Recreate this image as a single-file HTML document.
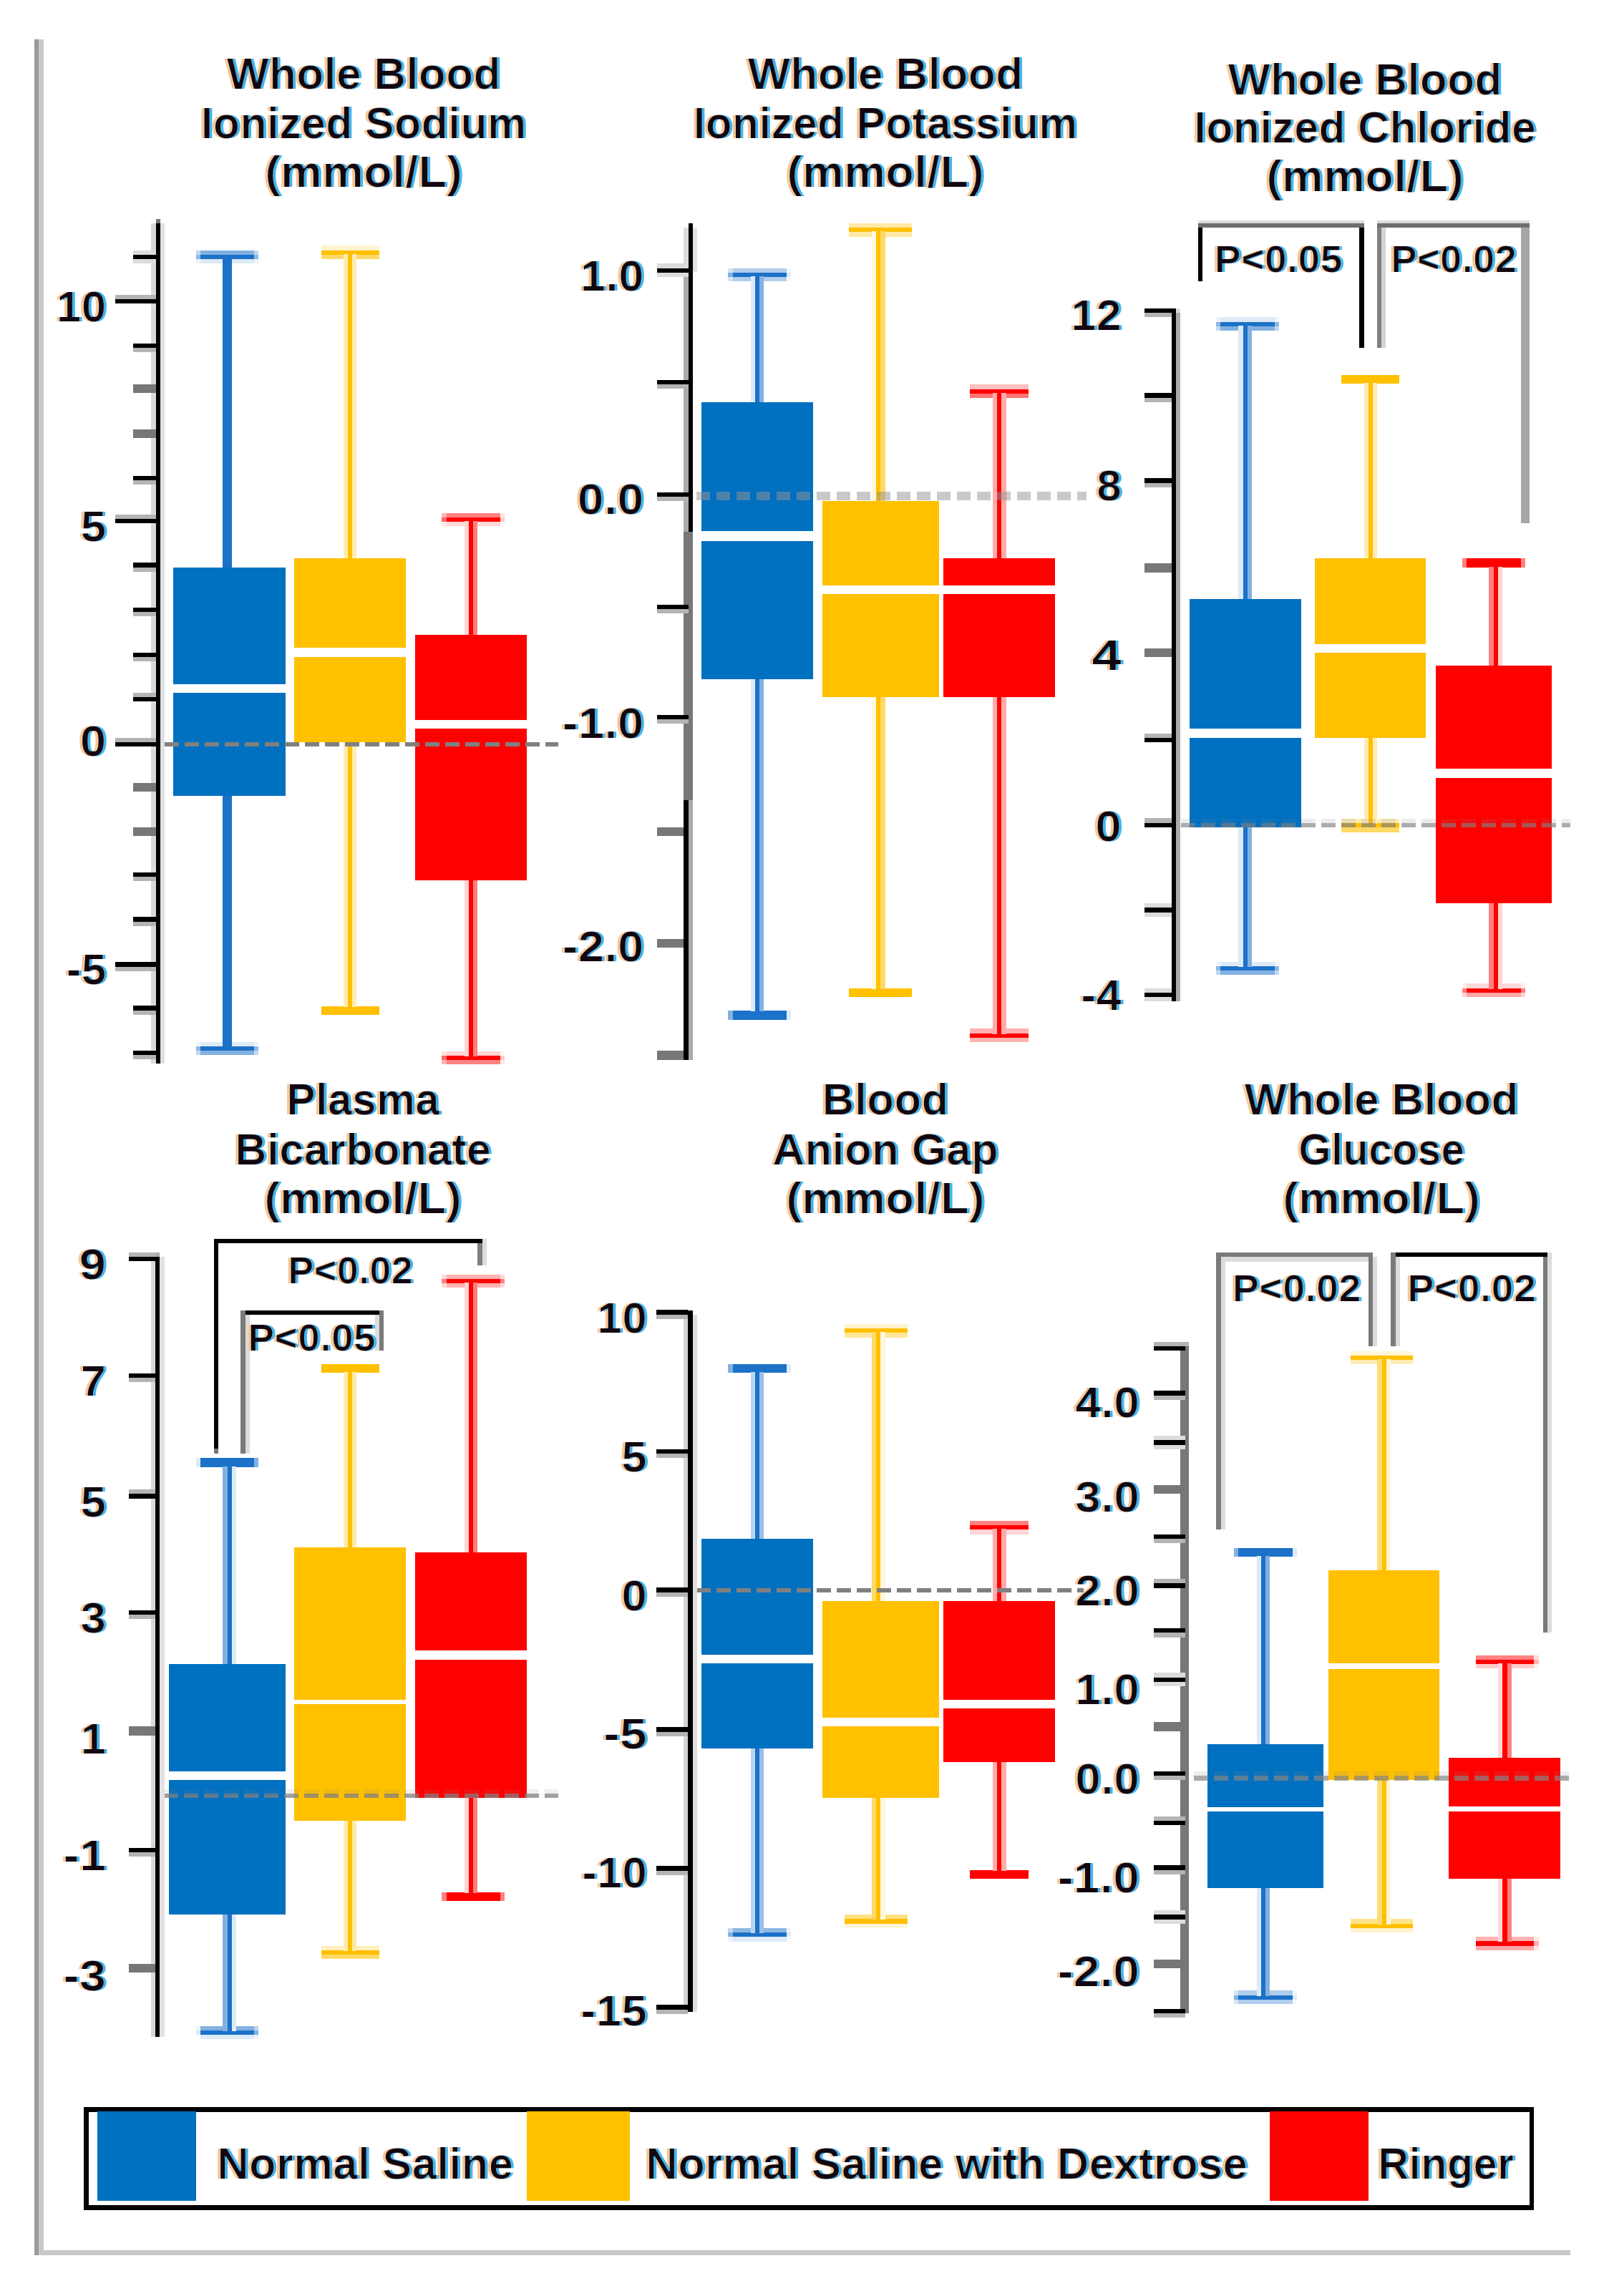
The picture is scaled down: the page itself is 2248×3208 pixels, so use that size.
<!DOCTYPE html>
<html><head><meta charset="utf-8"><title>Box plots</title>
<style>
html,body{margin:0;padding:0;background:#fff}
svg{display:block}
text{font-family:"Liberation Sans",sans-serif;font-weight:bold;fill:#121218}
</style></head><body>
<svg width="2248" height="3208" viewBox="0 0 2248 3208" shape-rendering="crispEdges">
<rect width="2248" height="3208" fill="#fff"/>
<defs><filter id="ct" x="-3%" y="-3%" width="106%" height="106%" color-interpolation-filters="sRGB">
<feMorphology in="SourceAlpha" operator="erode" radius="1.4 0" result="core"/>
<feOffset in="core" dx="-3.9" result="lo"/><feFlood flood-color="#f5c896"/><feComposite in2="lo" operator="in" result="L"/>
<feOffset in="core" dx="3.9" result="ro"/><feFlood flood-color="#45b4ec"/><feComposite in2="ro" operator="in" result="Rr"/>
<feFlood flood-color="#12060f"/><feComposite in2="core" operator="in" result="C"/>
<feMerge><feMergeNode in="L"/><feMergeNode in="Rr"/><feMergeNode in="C"/></feMerge>
</filter></defs>
<rect x="48" y="55" width="6" height="3096" fill="#9a9a9a"/>
<rect x="54" y="55" width="7" height="3089" fill="#c8c8c8"/>
<rect x="54" y="3144" width="2140" height="7" fill="#c8c8c8"/>
<rect x="274" y="350" width="6" height="6" fill="#c1d8f0"/>
<rect x="280" y="350" width="75" height="6" fill="#82b1e1"/>
<rect x="355" y="350" width="6" height="6" fill="#c1d8f0"/>
<rect x="274" y="356" width="6" height="6" fill="#8eb8e4"/>
<rect x="280" y="356" width="75" height="6" fill="#1c71c8"/>
<rect x="355" y="356" width="6" height="6" fill="#8eb8e4"/>
<rect x="274" y="362" width="6" height="6" fill="#eef4fb"/>
<rect x="280" y="362" width="75" height="6" fill="#ddeaf7"/>
<rect x="355" y="362" width="6" height="6" fill="#eef4fb"/>
<rect x="274" y="1456" width="6" height="6" fill="#eef4fb"/>
<rect x="280" y="1456" width="75" height="6" fill="#ddeaf7"/>
<rect x="355" y="1456" width="6" height="6" fill="#eef4fb"/>
<rect x="274" y="1462" width="6" height="6" fill="#8eb8e4"/>
<rect x="280" y="1462" width="75" height="6" fill="#1c71c8"/>
<rect x="355" y="1462" width="6" height="6" fill="#8eb8e4"/>
<rect x="274" y="1468" width="6" height="6" fill="#c1d8f0"/>
<rect x="280" y="1468" width="75" height="6" fill="#82b1e1"/>
<rect x="355" y="1468" width="6" height="6" fill="#c1d8f0"/>
<rect x="311" y="361" width="6" height="1102" fill="#1c71c8"/>
<rect x="317" y="361" width="7" height="1102" fill="#1c71c8"/>
<rect x="449" y="343" width="6" height="7" fill="#fff2cc"/>
<rect x="455" y="343" width="69" height="7" fill="#fff2cc"/>
<rect x="524" y="343" width="6" height="7" fill="#fff2cc"/>
<rect x="449" y="350" width="6" height="6" fill="#ffc000"/>
<rect x="455" y="350" width="69" height="6" fill="#ffc000"/>
<rect x="524" y="350" width="6" height="6" fill="#ffc000"/>
<rect x="449" y="356" width="6" height="6" fill="#ffd966"/>
<rect x="455" y="356" width="69" height="6" fill="#ffd966"/>
<rect x="524" y="356" width="6" height="6" fill="#ffd966"/>
<rect x="449" y="1406" width="6" height="6" fill="#ffc000"/>
<rect x="455" y="1406" width="69" height="6" fill="#ffc000"/>
<rect x="524" y="1406" width="6" height="6" fill="#ffc000"/>
<rect x="449" y="1412" width="6" height="6" fill="#ffc000"/>
<rect x="455" y="1412" width="69" height="6" fill="#ffc000"/>
<rect x="524" y="1412" width="6" height="6" fill="#ffc000"/>
<rect x="480" y="355" width="6" height="1052" fill="#ffecb2"/>
<rect x="486" y="355" width="6" height="1052" fill="#ffc000"/>
<rect x="492" y="355" width="6" height="1052" fill="#ffecb2"/>
<rect x="617" y="717" width="7" height="6" fill="#ffb2b2"/>
<rect x="624" y="717" width="75" height="6" fill="#ff8080"/>
<rect x="699" y="717" width="6" height="6" fill="#ffe6e6"/>
<rect x="617" y="723" width="7" height="6" fill="#ff6666"/>
<rect x="624" y="723" width="75" height="6" fill="#ff0000"/>
<rect x="699" y="723" width="6" height="6" fill="#ffcccc"/>
<rect x="617" y="729" width="7" height="6" fill="#ffe8e8"/>
<rect x="624" y="729" width="75" height="6" fill="#ffd9d9"/>
<rect x="699" y="729" width="6" height="6" fill="#fff7f7"/>
<rect x="617" y="1469" width="7" height="6" fill="#ffe5e5"/>
<rect x="624" y="1469" width="75" height="6" fill="#ffd4d4"/>
<rect x="699" y="1469" width="6" height="6" fill="#fff6f6"/>
<rect x="617" y="1475" width="7" height="6" fill="#ff6666"/>
<rect x="624" y="1475" width="75" height="6" fill="#ff0000"/>
<rect x="699" y="1475" width="6" height="6" fill="#ffcccc"/>
<rect x="617" y="1481" width="7" height="6" fill="#ffb2b2"/>
<rect x="624" y="1481" width="75" height="6" fill="#ff8080"/>
<rect x="699" y="1481" width="6" height="6" fill="#ffe6e6"/>
<rect x="649" y="728" width="6" height="748" fill="#ffd4d4"/>
<rect x="655" y="728" width="6" height="748" fill="#ff0000"/>
<rect x="661" y="728" width="6" height="748" fill="#ff8080"/>
<rect x="242" y="793" width="157" height="319" fill="#0070c0"/>
<rect x="241" y="956" width="159" height="12" fill="#ffffff"/>
<rect x="411" y="780" width="156" height="257" fill="#ffc000"/>
<rect x="410" y="905" width="158" height="13" fill="#ffffff"/>
<rect x="580" y="887" width="156" height="343" fill="#ff0000"/>
<rect x="579" y="1006" width="158" height="12" fill="#ffffff"/>
<line x1="230" x2="780" y1="1040.2" y2="1040.2" stroke="#808080" stroke-opacity="1" stroke-width="6.3" stroke-dasharray="20 8"/>
<rect x="211" y="312" width="7" height="1174" fill="#d9d9d9"/>
<rect x="218" y="306" width="6" height="1180" fill="#000"/>
<rect x="224" y="312" width="6" height="1174" fill="#e0e0e0"/>
<rect x="218" y="306" width="6" height="6" fill="#777"/>
<rect x="186" y="350" width="32" height="6" fill="#dcdcdc"/>
<rect x="186" y="356" width="32" height="6" fill="#000"/>
<rect x="186" y="362" width="32" height="6" fill="#dcdcdc"/>
<rect x="161" y="412" width="57" height="6" fill="#b4b4b4"/>
<rect x="161" y="418" width="57" height="6" fill="#000"/>
<rect x="186" y="480" width="32" height="6" fill="#000"/>
<rect x="186" y="486" width="32" height="6" fill="#b4b4b4"/>
<rect x="186" y="537" width="32" height="12" fill="#777"/>
<rect x="186" y="600" width="32" height="12" fill="#777"/>
<rect x="186" y="665" width="32" height="6" fill="#000"/>
<rect x="186" y="671" width="32" height="6" fill="#b4b4b4"/>
<rect x="161" y="719" width="57" height="6" fill="#b4b4b4"/>
<rect x="161" y="725" width="57" height="6" fill="#000"/>
<rect x="186" y="786" width="32" height="7" fill="#000"/>
<rect x="186" y="793" width="32" height="6" fill="#b4b4b4"/>
<rect x="186" y="849" width="32" height="6" fill="#000"/>
<rect x="186" y="855" width="32" height="6" fill="#b4b4b4"/>
<rect x="186" y="912" width="32" height="6" fill="#000"/>
<rect x="186" y="918" width="32" height="6" fill="#b4b4b4"/>
<rect x="186" y="968" width="32" height="6" fill="#b4b4b4"/>
<rect x="186" y="974" width="32" height="6" fill="#000"/>
<rect x="161" y="1031" width="57" height="6" fill="#b4b4b4"/>
<rect x="161" y="1037" width="57" height="6" fill="#000"/>
<rect x="186" y="1094" width="32" height="12" fill="#777"/>
<rect x="186" y="1156" width="32" height="12" fill="#777"/>
<rect x="186" y="1219" width="32" height="6" fill="#000"/>
<rect x="186" y="1225" width="32" height="6" fill="#b4b4b4"/>
<rect x="186" y="1281" width="32" height="7" fill="#000"/>
<rect x="186" y="1288" width="32" height="6" fill="#b4b4b4"/>
<rect x="161" y="1344" width="57" height="7" fill="#000"/>
<rect x="161" y="1351" width="57" height="6" fill="#b4b4b4"/>
<rect x="186" y="1405" width="32" height="7" fill="#000"/>
<rect x="186" y="1412" width="32" height="6" fill="#b4b4b4"/>
<rect x="186" y="1468" width="32" height="6" fill="#000"/>
<rect x="186" y="1474" width="32" height="6" fill="#b4b4b4"/>
<rect x="1017" y="375" width="7" height="6" fill="#d3e4f4"/>
<rect x="1024" y="375" width="75" height="6" fill="#b0cdec"/>
<rect x="1099" y="375" width="6" height="6" fill="#f3f8fc"/>
<rect x="1017" y="381" width="7" height="6" fill="#82b1e1"/>
<rect x="1024" y="381" width="75" height="6" fill="#1c71c8"/>
<rect x="1099" y="381" width="6" height="6" fill="#ddeaf7"/>
<rect x="1017" y="387" width="7" height="6" fill="#d3e4f4"/>
<rect x="1024" y="387" width="75" height="6" fill="#b0cdec"/>
<rect x="1099" y="387" width="6" height="6" fill="#f3f8fc"/>
<rect x="1017" y="1412" width="7" height="7" fill="#82b1e1"/>
<rect x="1024" y="1412" width="75" height="7" fill="#1c71c8"/>
<rect x="1099" y="1412" width="6" height="7" fill="#ddeaf7"/>
<rect x="1017" y="1419" width="7" height="6" fill="#82b1e1"/>
<rect x="1024" y="1419" width="75" height="6" fill="#1c71c8"/>
<rect x="1099" y="1419" width="6" height="6" fill="#ddeaf7"/>
<rect x="1049" y="386" width="6" height="1027" fill="#ddeaf7"/>
<rect x="1055" y="386" width="6" height="1027" fill="#1c71c8"/>
<rect x="1061" y="386" width="6" height="1027" fill="#82b1e1"/>
<rect x="1186" y="312" width="6" height="6" fill="#ffe9a6"/>
<rect x="1192" y="312" width="76" height="6" fill="#ffe9a6"/>
<rect x="1268" y="312" width="6" height="6" fill="#ffe9a6"/>
<rect x="1186" y="318" width="6" height="6" fill="#ffc000"/>
<rect x="1192" y="318" width="76" height="6" fill="#ffc000"/>
<rect x="1268" y="318" width="6" height="6" fill="#ffc000"/>
<rect x="1186" y="324" width="6" height="7" fill="#ffe9a6"/>
<rect x="1192" y="324" width="76" height="7" fill="#ffe9a6"/>
<rect x="1268" y="324" width="6" height="7" fill="#ffe9a6"/>
<rect x="1186" y="1381" width="6" height="6" fill="#ffc000"/>
<rect x="1192" y="1381" width="76" height="6" fill="#ffc000"/>
<rect x="1268" y="1381" width="6" height="6" fill="#ffc000"/>
<rect x="1186" y="1387" width="6" height="6" fill="#ffc000"/>
<rect x="1192" y="1387" width="76" height="6" fill="#ffc000"/>
<rect x="1268" y="1387" width="6" height="6" fill="#ffc000"/>
<rect x="1218" y="323" width="6" height="1059" fill="#fff7e0"/>
<rect x="1224" y="323" width="6" height="1059" fill="#ffc000"/>
<rect x="1230" y="323" width="7" height="1059" fill="#ffd966"/>
<rect x="1355" y="537" width="6" height="7" fill="#ffbfbf"/>
<rect x="1361" y="537" width="70" height="7" fill="#ffbfbf"/>
<rect x="1431" y="537" width="6" height="7" fill="#ffbfbf"/>
<rect x="1355" y="544" width="6" height="6" fill="#ff0000"/>
<rect x="1361" y="544" width="70" height="6" fill="#ff0000"/>
<rect x="1431" y="544" width="6" height="6" fill="#ff0000"/>
<rect x="1355" y="550" width="6" height="6" fill="#ff7373"/>
<rect x="1361" y="550" width="70" height="6" fill="#ff7373"/>
<rect x="1431" y="550" width="6" height="6" fill="#ff7373"/>
<rect x="1355" y="1437" width="6" height="7" fill="#ffb2b2"/>
<rect x="1361" y="1437" width="70" height="7" fill="#ffb2b2"/>
<rect x="1431" y="1437" width="6" height="7" fill="#ffb2b2"/>
<rect x="1355" y="1444" width="6" height="6" fill="#ff0000"/>
<rect x="1361" y="1444" width="70" height="6" fill="#ff0000"/>
<rect x="1431" y="1444" width="6" height="6" fill="#ff0000"/>
<rect x="1355" y="1450" width="6" height="6" fill="#ffb2b2"/>
<rect x="1361" y="1450" width="70" height="6" fill="#ffb2b2"/>
<rect x="1431" y="1450" width="6" height="6" fill="#ffb2b2"/>
<rect x="1387" y="549" width="6" height="896" fill="#ffabab"/>
<rect x="1393" y="549" width="6" height="896" fill="#ff0000"/>
<rect x="1399" y="549" width="7" height="896" fill="#ffabab"/>
<rect x="980" y="562" width="156" height="387" fill="#0070c0"/>
<rect x="979" y="742" width="159" height="14" fill="#ffffff"/>
<rect x="1149" y="700" width="163" height="274" fill="#ffc000"/>
<rect x="1148" y="818" width="165" height="12" fill="#ffffff"/>
<rect x="1318" y="780" width="156" height="194" fill="#ff0000"/>
<rect x="1317" y="818" width="158" height="12" fill="#ffffff"/>
<line x1="973" x2="1518" y1="693.2" y2="693.2" stroke="#939393" stroke-opacity="0.5" stroke-width="12.4" stroke-dasharray="19 9"/>
<rect x="955" y="318" width="7" height="62" fill="#dcdcdc"/>
<rect x="968" y="318" width="6" height="62" fill="#e4e4e4"/>
<rect x="955" y="380" width="7" height="363" fill="#aaaaaa"/>
<rect x="962" y="312" width="6" height="431" fill="#000"/>
<rect x="955" y="743" width="13" height="375" fill="#777"/>
<rect x="955" y="1118" width="7" height="363" fill="#000"/>
<rect x="962" y="1118" width="6" height="363" fill="#aaaaaa"/>
<rect x="918" y="368" width="44" height="7" fill="#dcdcdc"/>
<rect x="918" y="375" width="44" height="6" fill="#000"/>
<rect x="918" y="381" width="44" height="6" fill="#dcdcdc"/>
<rect x="918" y="531" width="44" height="6" fill="#000"/>
<rect x="918" y="537" width="44" height="6" fill="#b4b4b4"/>
<rect x="918" y="688" width="44" height="6" fill="#000"/>
<rect x="918" y="694" width="44" height="6" fill="#b4b4b4"/>
<rect x="918" y="845" width="44" height="6" fill="#000"/>
<rect x="918" y="851" width="44" height="6" fill="#b4b4b4"/>
<rect x="918" y="999" width="44" height="6" fill="#000"/>
<rect x="918" y="1005" width="44" height="6" fill="#b4b4b4"/>
<rect x="918" y="1156" width="37" height="12" fill="#777"/>
<rect x="918" y="1312" width="37" height="12" fill="#777"/>
<rect x="918" y="1468" width="37" height="13" fill="#777"/>
<rect x="1699" y="443" width="6" height="7" fill="#eef4fb"/>
<rect x="1705" y="443" width="76" height="7" fill="#ddeaf7"/>
<rect x="1781" y="443" width="6" height="7" fill="#eef4fb"/>
<rect x="1699" y="450" width="6" height="6" fill="#8eb8e4"/>
<rect x="1705" y="450" width="76" height="6" fill="#1c71c8"/>
<rect x="1781" y="450" width="6" height="6" fill="#8eb8e4"/>
<rect x="1699" y="456" width="6" height="6" fill="#c1d8f0"/>
<rect x="1705" y="456" width="76" height="6" fill="#82b1e1"/>
<rect x="1781" y="456" width="6" height="6" fill="#c1d8f0"/>
<rect x="1699" y="1344" width="6" height="6" fill="#eef4fb"/>
<rect x="1705" y="1344" width="76" height="6" fill="#ddeaf7"/>
<rect x="1781" y="1344" width="6" height="6" fill="#eef4fb"/>
<rect x="1699" y="1350" width="6" height="6" fill="#8eb8e4"/>
<rect x="1705" y="1350" width="76" height="6" fill="#1c71c8"/>
<rect x="1781" y="1350" width="6" height="6" fill="#8eb8e4"/>
<rect x="1699" y="1356" width="6" height="6" fill="#c1d8f0"/>
<rect x="1705" y="1356" width="76" height="6" fill="#82b1e1"/>
<rect x="1781" y="1356" width="6" height="6" fill="#c1d8f0"/>
<rect x="1730" y="455" width="7" height="896" fill="#ddeaf7"/>
<rect x="1737" y="455" width="6" height="896" fill="#1c71c8"/>
<rect x="1743" y="455" width="6" height="896" fill="#82b1e1"/>
<rect x="1874" y="524" width="6" height="6" fill="#ffc000"/>
<rect x="1880" y="524" width="69" height="6" fill="#ffc000"/>
<rect x="1949" y="524" width="6" height="6" fill="#ffc000"/>
<rect x="1874" y="530" width="6" height="6" fill="#ffc000"/>
<rect x="1880" y="530" width="69" height="6" fill="#ffc000"/>
<rect x="1949" y="530" width="6" height="6" fill="#ffc000"/>
<rect x="1874" y="1144" width="6" height="6" fill="#ffecb2"/>
<rect x="1880" y="1144" width="69" height="6" fill="#ffecb2"/>
<rect x="1949" y="1144" width="6" height="6" fill="#ffecb2"/>
<rect x="1874" y="1150" width="6" height="6" fill="#ffc000"/>
<rect x="1880" y="1150" width="69" height="6" fill="#ffc000"/>
<rect x="1949" y="1150" width="6" height="6" fill="#ffc000"/>
<rect x="1874" y="1156" width="6" height="7" fill="#ffd966"/>
<rect x="1880" y="1156" width="69" height="7" fill="#ffd966"/>
<rect x="1949" y="1156" width="6" height="7" fill="#ffd966"/>
<rect x="1906" y="535" width="6" height="616" fill="#ffecb2"/>
<rect x="1912" y="535" width="6" height="616" fill="#ffc000"/>
<rect x="1918" y="535" width="6" height="616" fill="#ffecb2"/>
<rect x="2043" y="780" width="6" height="7" fill="#ff8080"/>
<rect x="2049" y="780" width="76" height="7" fill="#ff0000"/>
<rect x="2125" y="780" width="6" height="7" fill="#ff8080"/>
<rect x="2043" y="787" width="6" height="6" fill="#ff8080"/>
<rect x="2049" y="787" width="76" height="6" fill="#ff0000"/>
<rect x="2125" y="787" width="6" height="6" fill="#ff8080"/>
<rect x="2043" y="1374" width="6" height="7" fill="#ffecec"/>
<rect x="2049" y="1374" width="76" height="7" fill="#ffd9d9"/>
<rect x="2125" y="1374" width="6" height="7" fill="#ffecec"/>
<rect x="2043" y="1381" width="6" height="6" fill="#ff8080"/>
<rect x="2049" y="1381" width="76" height="6" fill="#ff0000"/>
<rect x="2125" y="1381" width="6" height="6" fill="#ff8080"/>
<rect x="2043" y="1387" width="6" height="6" fill="#ffd2d2"/>
<rect x="2049" y="1387" width="76" height="6" fill="#ffa6a6"/>
<rect x="2125" y="1387" width="6" height="6" fill="#ffd2d2"/>
<rect x="2080" y="792" width="7" height="590" fill="#ff8080"/>
<rect x="2087" y="792" width="6" height="590" fill="#ff0000"/>
<rect x="2093" y="792" width="6" height="590" fill="#ffd4d4"/>
<rect x="1662" y="837" width="156" height="319" fill="#0070c0"/>
<rect x="1661" y="1018" width="159" height="13" fill="#ffffff"/>
<rect x="1837" y="780" width="155" height="251" fill="#ffc000"/>
<rect x="1836" y="900" width="158" height="12" fill="#ffffff"/>
<rect x="2006" y="930" width="162" height="332" fill="#ff0000"/>
<rect x="2004" y="1074" width="165" height="13" fill="#ffffff"/>
<line x1="1649.6" x2="2194" y1="1152.8" y2="1152.8" stroke="#808080" stroke-opacity="0.65" stroke-width="6.3" stroke-dasharray="20 8"/>
<line x1="1649.6" x2="2194" y1="1146.6" y2="1146.6" stroke="#808080" stroke-opacity="0.15" stroke-width="6.2" stroke-dasharray="20 8"/>
<rect x="1637" y="431" width="6" height="968" fill="#000"/>
<rect x="1643" y="437" width="6" height="962" fill="#aaaaaa"/>
<rect x="1643" y="431" width="6" height="6" fill="#dcdcdc"/>
<rect x="1599" y="431" width="38" height="6" fill="#000"/>
<rect x="1599" y="437" width="38" height="6" fill="#b4b4b4"/>
<rect x="1599" y="549" width="38" height="7" fill="#000"/>
<rect x="1599" y="556" width="38" height="6" fill="#b4b4b4"/>
<rect x="1599" y="668" width="38" height="7" fill="#000"/>
<rect x="1599" y="675" width="38" height="6" fill="#b4b4b4"/>
<rect x="1599" y="787" width="38" height="13" fill="#777"/>
<rect x="1599" y="906" width="38" height="12" fill="#777"/>
<rect x="1599" y="1025" width="38" height="6" fill="#b4b4b4"/>
<rect x="1599" y="1031" width="38" height="6" fill="#000"/>
<rect x="1599" y="1143" width="38" height="7" fill="#b4b4b4"/>
<rect x="1599" y="1150" width="38" height="6" fill="#000"/>
<rect x="1599" y="1262" width="38" height="6" fill="#dcdcdc"/>
<rect x="1599" y="1268" width="38" height="7" fill="#000"/>
<rect x="1599" y="1275" width="38" height="6" fill="#dcdcdc"/>
<rect x="1599" y="1381" width="38" height="6" fill="#dcdcdc"/>
<rect x="1599" y="1387" width="38" height="6" fill="#000"/>
<rect x="1599" y="1393" width="38" height="6" fill="#dcdcdc"/>
<rect x="1674" y="308" width="232" height="4" fill="#dcdcdc"/>
<rect x="1674" y="312" width="232" height="6" fill="#6e6e6e"/>
<rect x="1674" y="318" width="6" height="75" fill="#000"/>
<rect x="1899" y="318" width="7" height="168" fill="#000"/>
<rect x="1924" y="308" width="213" height="4" fill="#dcdcdc"/>
<rect x="1924" y="312" width="213" height="6" fill="#6e6e6e"/>
<rect x="1924" y="318" width="6" height="168" fill="#7f7f7f"/>
<rect x="1930" y="318" width="6" height="168" fill="#d4d4d4"/>
<rect x="2125" y="318" width="12" height="413" fill="#a6a6a6"/>
<rect x="274" y="2037" width="6" height="7" fill="#ddeaf7"/>
<rect x="280" y="2037" width="75" height="7" fill="#1c71c8"/>
<rect x="355" y="2037" width="6" height="7" fill="#82b1e1"/>
<rect x="274" y="2044" width="6" height="6" fill="#ddeaf7"/>
<rect x="280" y="2044" width="75" height="6" fill="#1c71c8"/>
<rect x="355" y="2044" width="6" height="6" fill="#82b1e1"/>
<rect x="274" y="2831" width="6" height="6" fill="#ecf3fa"/>
<rect x="280" y="2831" width="75" height="6" fill="#82b1e1"/>
<rect x="355" y="2831" width="6" height="6" fill="#bad4ee"/>
<rect x="274" y="2837" width="6" height="6" fill="#ddeaf7"/>
<rect x="280" y="2837" width="75" height="6" fill="#1c71c8"/>
<rect x="355" y="2837" width="6" height="6" fill="#82b1e1"/>
<rect x="274" y="2843" width="6" height="6" fill="#fafcfe"/>
<rect x="280" y="2843" width="75" height="6" fill="#ddeaf7"/>
<rect x="355" y="2843" width="6" height="6" fill="#ecf3fa"/>
<rect x="311" y="2049" width="7" height="789" fill="#82b1e1"/>
<rect x="318" y="2049" width="6" height="789" fill="#1c71c8"/>
<rect x="324" y="2049" width="6" height="789" fill="#ddeaf7"/>
<rect x="449" y="1906" width="6" height="6" fill="#ffc000"/>
<rect x="455" y="1906" width="69" height="6" fill="#ffc000"/>
<rect x="524" y="1906" width="6" height="6" fill="#ffc000"/>
<rect x="449" y="1912" width="6" height="6" fill="#ffc000"/>
<rect x="455" y="1912" width="69" height="6" fill="#ffc000"/>
<rect x="524" y="1912" width="6" height="6" fill="#ffc000"/>
<rect x="449" y="2719" width="6" height="6" fill="#ffefbf"/>
<rect x="455" y="2719" width="69" height="6" fill="#ffefbf"/>
<rect x="524" y="2719" width="6" height="6" fill="#ffefbf"/>
<rect x="449" y="2725" width="6" height="6" fill="#ffc000"/>
<rect x="455" y="2725" width="69" height="6" fill="#ffc000"/>
<rect x="524" y="2725" width="6" height="6" fill="#ffc000"/>
<rect x="449" y="2731" width="6" height="6" fill="#ffd966"/>
<rect x="455" y="2731" width="69" height="6" fill="#ffd966"/>
<rect x="524" y="2731" width="6" height="6" fill="#ffd966"/>
<rect x="480" y="1917" width="6" height="809" fill="#ffecb2"/>
<rect x="486" y="1917" width="6" height="809" fill="#ffc000"/>
<rect x="492" y="1917" width="6" height="809" fill="#ffe9a6"/>
<rect x="617" y="1781" width="7" height="6" fill="#ffd9d9"/>
<rect x="624" y="1781" width="75" height="6" fill="#ffb2b2"/>
<rect x="699" y="1781" width="6" height="6" fill="#ffd9d9"/>
<rect x="617" y="1787" width="7" height="6" fill="#ff8080"/>
<rect x="624" y="1787" width="75" height="6" fill="#ff0000"/>
<rect x="699" y="1787" width="6" height="6" fill="#ff8080"/>
<rect x="617" y="1793" width="7" height="6" fill="#ffd9d9"/>
<rect x="624" y="1793" width="75" height="6" fill="#ffb2b2"/>
<rect x="699" y="1793" width="6" height="6" fill="#ffd9d9"/>
<rect x="617" y="2644" width="7" height="6" fill="#ff8080"/>
<rect x="624" y="2644" width="75" height="6" fill="#ff0000"/>
<rect x="699" y="2644" width="6" height="6" fill="#ff8080"/>
<rect x="617" y="2650" width="7" height="6" fill="#ff8080"/>
<rect x="624" y="2650" width="75" height="6" fill="#ff0000"/>
<rect x="699" y="2650" width="6" height="6" fill="#ff8080"/>
<rect x="649" y="1792" width="6" height="853" fill="#ffd4d4"/>
<rect x="655" y="1792" width="6" height="853" fill="#ff0000"/>
<rect x="661" y="1792" width="6" height="853" fill="#ff8080"/>
<rect x="236" y="2325" width="163" height="350" fill="#0070c0"/>
<rect x="235" y="2475" width="165" height="12" fill="#ffffff"/>
<rect x="411" y="2162" width="156" height="382" fill="#ffc000"/>
<rect x="410" y="2375" width="158" height="6" fill="#ffffff"/>
<rect x="580" y="2169" width="156" height="343" fill="#ff0000"/>
<rect x="579" y="2306" width="158" height="13" fill="#ffffff"/>
<line x1="229" x2="780" y1="2509.2" y2="2509.2" stroke="#808080" stroke-opacity="0.75" stroke-width="6.5" stroke-dasharray="20 8"/>
<line x1="229" x2="780" y1="2503.0" y2="2503.0" stroke="#808080" stroke-opacity="0.12" stroke-width="6.0" stroke-dasharray="20 8"/>
<rect x="211" y="1756" width="6" height="1090" fill="#d9d9d9"/>
<rect x="217" y="1756" width="6" height="1090" fill="#000"/>
<rect x="223" y="1756" width="7" height="1090" fill="#e2e2e2"/>
<rect x="211" y="1750" width="12" height="6" fill="#aaaaaa"/>
<rect x="180" y="1750" width="37" height="6" fill="#b4b4b4"/>
<rect x="180" y="1756" width="37" height="6" fill="#000"/>
<rect x="180" y="1919" width="37" height="6" fill="#000"/>
<rect x="180" y="1925" width="37" height="6" fill="#b4b4b4"/>
<rect x="180" y="2081" width="37" height="6" fill="#b4b4b4"/>
<rect x="180" y="2087" width="37" height="7" fill="#000"/>
<rect x="180" y="2250" width="37" height="6" fill="#000"/>
<rect x="180" y="2256" width="37" height="6" fill="#b4b4b4"/>
<rect x="180" y="2412" width="37" height="13" fill="#777"/>
<rect x="180" y="2582" width="37" height="6" fill="#000"/>
<rect x="180" y="2588" width="37" height="6" fill="#b4b4b4"/>
<rect x="180" y="2744" width="37" height="12" fill="#777"/>
<rect x="299" y="1731" width="375" height="6" fill="#000"/>
<rect x="299" y="1731" width="6" height="293" fill="#000"/>
<rect x="299" y="2024" width="6" height="7" fill="#777"/>
<rect x="667" y="1737" width="7" height="31" fill="#7f7f7f"/>
<rect x="674" y="1731" width="6" height="37" fill="#dcdcdc"/>
<rect x="336" y="1831" width="200" height="6" fill="#000"/>
<rect x="336" y="1831" width="7" height="200" fill="#7a7a7a"/>
<rect x="343" y="1837" width="6" height="194" fill="#dcdcdc"/>
<rect x="524" y="1837" width="6" height="50" fill="#dcdcdc"/>
<rect x="530" y="1831" width="6" height="56" fill="#7a7a7a"/>
<rect x="1017" y="1906" width="7" height="6" fill="#82b1e1"/>
<rect x="1024" y="1906" width="75" height="6" fill="#1c71c8"/>
<rect x="1099" y="1906" width="6" height="6" fill="#ddeaf7"/>
<rect x="1017" y="1912" width="7" height="6" fill="#82b1e1"/>
<rect x="1024" y="1912" width="75" height="6" fill="#1c71c8"/>
<rect x="1099" y="1912" width="6" height="6" fill="#ddeaf7"/>
<rect x="1017" y="2694" width="7" height="6" fill="#c1d8f0"/>
<rect x="1024" y="2694" width="75" height="6" fill="#8eb8e4"/>
<rect x="1099" y="2694" width="6" height="6" fill="#eef4fb"/>
<rect x="1017" y="2700" width="7" height="6" fill="#82b1e1"/>
<rect x="1024" y="2700" width="75" height="6" fill="#1c71c8"/>
<rect x="1099" y="2700" width="6" height="6" fill="#ddeaf7"/>
<rect x="1017" y="2706" width="7" height="7" fill="#ecf3fa"/>
<rect x="1024" y="2706" width="75" height="7" fill="#ddeaf7"/>
<rect x="1099" y="2706" width="6" height="7" fill="#fafcfe"/>
<rect x="1049" y="1917" width="6" height="784" fill="#bbd4ee"/>
<rect x="1055" y="1917" width="6" height="784" fill="#1c71c8"/>
<rect x="1061" y="1917" width="6" height="784" fill="#99bfe6"/>
<rect x="1180" y="1850" width="6" height="6" fill="#fff2cc"/>
<rect x="1186" y="1850" width="75" height="6" fill="#fff2cc"/>
<rect x="1261" y="1850" width="7" height="6" fill="#fff2cc"/>
<rect x="1180" y="1856" width="6" height="6" fill="#ffc000"/>
<rect x="1186" y="1856" width="75" height="6" fill="#ffc000"/>
<rect x="1261" y="1856" width="7" height="6" fill="#ffc000"/>
<rect x="1180" y="1862" width="6" height="7" fill="#ffe699"/>
<rect x="1186" y="1862" width="75" height="7" fill="#ffe699"/>
<rect x="1261" y="1862" width="7" height="7" fill="#ffe699"/>
<rect x="1180" y="2675" width="6" height="6" fill="#ffe080"/>
<rect x="1186" y="2675" width="75" height="6" fill="#ffe080"/>
<rect x="1261" y="2675" width="7" height="6" fill="#ffe080"/>
<rect x="1180" y="2681" width="6" height="7" fill="#ffc000"/>
<rect x="1186" y="2681" width="75" height="7" fill="#ffc000"/>
<rect x="1261" y="2681" width="7" height="7" fill="#ffc000"/>
<rect x="1180" y="2688" width="6" height="6" fill="#fff6d9"/>
<rect x="1186" y="2688" width="75" height="6" fill="#fff6d9"/>
<rect x="1261" y="2688" width="7" height="6" fill="#fff6d9"/>
<rect x="1218" y="1861" width="6" height="821" fill="#ffd966"/>
<rect x="1224" y="1861" width="6" height="821" fill="#ffc000"/>
<rect x="1230" y="1861" width="7" height="821" fill="#fff7e0"/>
<rect x="1355" y="2125" width="6" height="6" fill="#ff8080"/>
<rect x="1361" y="2125" width="70" height="6" fill="#ff8080"/>
<rect x="1431" y="2125" width="6" height="6" fill="#ff8080"/>
<rect x="1355" y="2131" width="6" height="6" fill="#ff0000"/>
<rect x="1361" y="2131" width="70" height="6" fill="#ff0000"/>
<rect x="1431" y="2131" width="6" height="6" fill="#ff0000"/>
<rect x="1355" y="2137" width="6" height="7" fill="#ffd4d4"/>
<rect x="1361" y="2137" width="70" height="7" fill="#ffd4d4"/>
<rect x="1431" y="2137" width="6" height="7" fill="#ffd4d4"/>
<rect x="1355" y="2613" width="6" height="6" fill="#ff0000"/>
<rect x="1361" y="2613" width="70" height="6" fill="#ff0000"/>
<rect x="1431" y="2613" width="6" height="6" fill="#ff0000"/>
<rect x="1355" y="2619" width="6" height="6" fill="#ff0000"/>
<rect x="1361" y="2619" width="70" height="6" fill="#ff0000"/>
<rect x="1431" y="2619" width="6" height="6" fill="#ff0000"/>
<rect x="1387" y="2136" width="6" height="478" fill="#ffabab"/>
<rect x="1393" y="2136" width="6" height="478" fill="#ff0000"/>
<rect x="1399" y="2136" width="7" height="478" fill="#ffabab"/>
<rect x="980" y="2150" width="156" height="293" fill="#0070c0"/>
<rect x="979" y="2312" width="159" height="12" fill="#ffffff"/>
<rect x="1149" y="2237" width="163" height="275" fill="#ffc000"/>
<rect x="1148" y="2400" width="165" height="12" fill="#ffffff"/>
<rect x="1318" y="2237" width="156" height="225" fill="#ff0000"/>
<rect x="1317" y="2375" width="158" height="12" fill="#ffffff"/>
<line x1="973" x2="1514" y1="2221.8" y2="2221.8" stroke="#808080" stroke-opacity="1" stroke-width="6.4" stroke-dasharray="20 8"/>
<rect x="955" y="1843" width="6" height="968" fill="#d4d4d4"/>
<rect x="961" y="1831" width="7" height="980" fill="#000"/>
<rect x="968" y="1837" width="6" height="974" fill="#dedede"/>
<rect x="917" y="1830" width="44" height="7" fill="#000"/>
<rect x="917" y="1837" width="44" height="6" fill="#b4b4b4"/>
<rect x="917" y="2025" width="44" height="6" fill="#000"/>
<rect x="917" y="2031" width="44" height="6" fill="#b4b4b4"/>
<rect x="917" y="2218" width="44" height="7" fill="#000"/>
<rect x="917" y="2225" width="44" height="6" fill="#b4b4b4"/>
<rect x="917" y="2413" width="44" height="7" fill="#000"/>
<rect x="917" y="2420" width="44" height="6" fill="#b4b4b4"/>
<rect x="917" y="2607" width="44" height="7" fill="#000"/>
<rect x="917" y="2614" width="44" height="6" fill="#b4b4b4"/>
<rect x="917" y="2801" width="44" height="7" fill="#000"/>
<rect x="917" y="2808" width="44" height="6" fill="#b4b4b4"/>
<rect x="1724" y="2163" width="6" height="6" fill="#82b1e1"/>
<rect x="1730" y="2163" width="76" height="6" fill="#1c71c8"/>
<rect x="1806" y="2163" width="6" height="6" fill="#ddeaf7"/>
<rect x="1724" y="2169" width="6" height="6" fill="#82b1e1"/>
<rect x="1730" y="2169" width="76" height="6" fill="#1c71c8"/>
<rect x="1806" y="2169" width="6" height="6" fill="#ddeaf7"/>
<rect x="1724" y="2781" width="6" height="7" fill="#d3e4f4"/>
<rect x="1730" y="2781" width="76" height="7" fill="#b0cdec"/>
<rect x="1806" y="2781" width="6" height="7" fill="#f3f8fc"/>
<rect x="1724" y="2788" width="6" height="6" fill="#82b1e1"/>
<rect x="1730" y="2788" width="76" height="6" fill="#1c71c8"/>
<rect x="1806" y="2788" width="6" height="6" fill="#ddeaf7"/>
<rect x="1724" y="2794" width="6" height="6" fill="#d3e4f4"/>
<rect x="1730" y="2794" width="76" height="6" fill="#b0cdec"/>
<rect x="1806" y="2794" width="6" height="6" fill="#f3f8fc"/>
<rect x="1756" y="2174" width="6" height="615" fill="#ddeaf7"/>
<rect x="1762" y="2174" width="6" height="615" fill="#1c71c8"/>
<rect x="1768" y="2174" width="6" height="615" fill="#82b1e1"/>
<rect x="1887" y="1888" width="6" height="6" fill="#fff6d9"/>
<rect x="1893" y="1888" width="75" height="6" fill="#fff6d9"/>
<rect x="1968" y="1888" width="6" height="6" fill="#fff6d9"/>
<rect x="1887" y="1894" width="6" height="6" fill="#ffc000"/>
<rect x="1893" y="1894" width="75" height="6" fill="#ffc000"/>
<rect x="1968" y="1894" width="6" height="6" fill="#ffc000"/>
<rect x="1887" y="1900" width="6" height="6" fill="#ffecb2"/>
<rect x="1893" y="1900" width="75" height="6" fill="#ffecb2"/>
<rect x="1968" y="1900" width="6" height="6" fill="#ffecb2"/>
<rect x="1887" y="2681" width="6" height="7" fill="#ffe38c"/>
<rect x="1893" y="2681" width="75" height="7" fill="#ffe38c"/>
<rect x="1968" y="2681" width="6" height="7" fill="#ffe38c"/>
<rect x="1887" y="2688" width="6" height="6" fill="#ffc000"/>
<rect x="1893" y="2688" width="75" height="6" fill="#ffc000"/>
<rect x="1968" y="2688" width="6" height="6" fill="#ffc000"/>
<rect x="1887" y="2694" width="6" height="6" fill="#fff2cc"/>
<rect x="1893" y="2694" width="75" height="6" fill="#fff2cc"/>
<rect x="1968" y="2694" width="6" height="6" fill="#fff2cc"/>
<rect x="1924" y="1899" width="7" height="790" fill="#ffdc73"/>
<rect x="1931" y="1899" width="6" height="790" fill="#ffc000"/>
<rect x="1937" y="1899" width="6" height="790" fill="#fff6d9"/>
<rect x="2062" y="2313" width="6" height="6" fill="#ff8080"/>
<rect x="2068" y="2313" width="75" height="6" fill="#ff8080"/>
<rect x="2143" y="2313" width="7" height="6" fill="#ffd9d9"/>
<rect x="2062" y="2319" width="6" height="6" fill="#ff0000"/>
<rect x="2068" y="2319" width="75" height="6" fill="#ff0000"/>
<rect x="2143" y="2319" width="7" height="6" fill="#ffb2b2"/>
<rect x="2062" y="2325" width="6" height="6" fill="#ffcccc"/>
<rect x="2068" y="2325" width="75" height="6" fill="#ffcccc"/>
<rect x="2143" y="2325" width="7" height="6" fill="#fff0f0"/>
<rect x="2062" y="2706" width="6" height="6" fill="#ffb2b2"/>
<rect x="2068" y="2706" width="75" height="6" fill="#ffb2b2"/>
<rect x="2143" y="2706" width="7" height="6" fill="#ffe8e8"/>
<rect x="2062" y="2712" width="6" height="7" fill="#ff0000"/>
<rect x="2068" y="2712" width="75" height="7" fill="#ff0000"/>
<rect x="2143" y="2712" width="7" height="7" fill="#ffb2b2"/>
<rect x="2062" y="2719" width="6" height="6" fill="#ffa6a6"/>
<rect x="2068" y="2719" width="75" height="6" fill="#ffa6a6"/>
<rect x="2143" y="2719" width="7" height="6" fill="#ffe4e4"/>
<rect x="2093" y="2324" width="6" height="389" fill="#ffd9d9"/>
<rect x="2099" y="2324" width="7" height="389" fill="#ff0000"/>
<rect x="2106" y="2324" width="6" height="389" fill="#ff8080"/>
<rect x="1687" y="2437" width="162" height="201" fill="#0070c0"/>
<rect x="1686" y="2525" width="164" height="6" fill="#ffffff"/>
<rect x="1856" y="2194" width="155" height="293" fill="#ffc000"/>
<rect x="1855" y="2324" width="157" height="8" fill="#ffffff"/>
<rect x="2024" y="2456" width="156" height="169" fill="#ff0000"/>
<rect x="2023" y="2524" width="159" height="7" fill="#ffffff"/>
<line x1="1668" x2="2193" y1="2484.3" y2="2484.3" stroke="#858585" stroke-opacity="0.7" stroke-width="6.6" stroke-dasharray="20 8"/>
<line x1="1668" x2="2193" y1="2478.0" y2="2478.0" stroke="#858585" stroke-opacity="0.15" stroke-width="6.0" stroke-dasharray="20 8"/>
<rect x="1649" y="1881" width="12" height="932" fill="#777"/>
<rect x="1649" y="1875" width="12" height="6" fill="#b4b4b4"/>
<rect x="1612" y="1875" width="44" height="6" fill="#b4b4b4"/>
<rect x="1612" y="1881" width="44" height="6" fill="#000"/>
<rect x="1612" y="1943" width="44" height="7" fill="#000"/>
<rect x="1612" y="1950" width="44" height="6" fill="#b4b4b4"/>
<rect x="1612" y="2006" width="44" height="6" fill="#dcdcdc"/>
<rect x="1612" y="2012" width="44" height="7" fill="#000"/>
<rect x="1612" y="2019" width="44" height="6" fill="#dcdcdc"/>
<rect x="1612" y="2075" width="44" height="12" fill="#777"/>
<rect x="1612" y="2144" width="44" height="6" fill="#000"/>
<rect x="1612" y="2150" width="44" height="6" fill="#b4b4b4"/>
<rect x="1612" y="2206" width="44" height="6" fill="#b4b4b4"/>
<rect x="1612" y="2212" width="44" height="7" fill="#000"/>
<rect x="1612" y="2275" width="44" height="6" fill="#000"/>
<rect x="1612" y="2281" width="44" height="7" fill="#b4b4b4"/>
<rect x="1612" y="2337" width="44" height="7" fill="#dcdcdc"/>
<rect x="1612" y="2344" width="44" height="6" fill="#000"/>
<rect x="1612" y="2350" width="44" height="6" fill="#dcdcdc"/>
<rect x="1612" y="2406" width="44" height="13" fill="#777"/>
<rect x="1612" y="2475" width="44" height="6" fill="#000"/>
<rect x="1612" y="2481" width="44" height="6" fill="#b4b4b4"/>
<rect x="1612" y="2538" width="44" height="6" fill="#b4b4b4"/>
<rect x="1612" y="2544" width="44" height="6" fill="#000"/>
<rect x="1612" y="2606" width="44" height="7" fill="#000"/>
<rect x="1612" y="2613" width="44" height="6" fill="#b4b4b4"/>
<rect x="1612" y="2669" width="44" height="6" fill="#dcdcdc"/>
<rect x="1612" y="2675" width="44" height="7" fill="#000"/>
<rect x="1612" y="2682" width="44" height="6" fill="#dcdcdc"/>
<rect x="1612" y="2738" width="44" height="12" fill="#777"/>
<rect x="1612" y="2807" width="44" height="6" fill="#000"/>
<rect x="1612" y="2813" width="44" height="6" fill="#b4b4b4"/>
<rect x="1699" y="1750" width="219" height="6" fill="#7a7a7a"/>
<rect x="1706" y="1756" width="218" height="7" fill="#dcdcdc"/>
<rect x="1699" y="1756" width="7" height="381" fill="#7a7a7a"/>
<rect x="1706" y="1763" width="6" height="374" fill="#dcdcdc"/>
<rect x="1912" y="1756" width="6" height="125" fill="#7a7a7a"/>
<rect x="1918" y="1756" width="6" height="125" fill="#dcdcdc"/>
<rect x="1943" y="1750" width="219" height="6" fill="#000"/>
<rect x="1943" y="1750" width="7" height="131" fill="#7a7a7a"/>
<rect x="1950" y="1756" width="6" height="125" fill="#dcdcdc"/>
<rect x="2156" y="1756" width="6" height="525" fill="#7a7a7a"/>
<rect x="2162" y="1750" width="6" height="531" fill="#dcdcdc"/>
<rect x="120.3" y="2947.3" width="2019.8" height="137.2" fill="#fff" stroke="#000" stroke-width="6.5"/>
<rect x="136" y="2950" width="138" height="125" fill="#0070c0"/>
<rect x="736" y="2950" width="144" height="125" fill="#ffc000"/>
<rect x="1774" y="2950" width="138" height="125" fill="#ff0000"/>
<g filter="url(#ct)">
<text x="148.5" y="449.0" font-size="60" text-anchor="end" textLength="70.0" lengthAdjust="spacingAndGlyphs">10</text>
<text x="148.5" y="756.0" font-size="60" text-anchor="end" textLength="36.0" lengthAdjust="spacingAndGlyphs">5</text>
<text x="148.5" y="1055.5" font-size="60" text-anchor="end" textLength="37.0" lengthAdjust="spacingAndGlyphs">0</text>
<text x="148.5" y="1375.0" font-size="60" text-anchor="end" textLength="56.0" lengthAdjust="spacingAndGlyphs">-5</text>
<text x="508.0" y="124.0" font-size="61.5" text-anchor="middle" textLength="383.0" lengthAdjust="spacingAndGlyphs">Whole Blood</text>
<text x="508.0" y="192.8" font-size="61.5" text-anchor="middle" textLength="455.0" lengthAdjust="spacingAndGlyphs">Ionized Sodium</text>
<text x="508.0" y="261.4" font-size="61.5" text-anchor="middle" textLength="276.0" lengthAdjust="spacingAndGlyphs">(mmol/L)</text>
<text x="899.5" y="405.5" font-size="60" text-anchor="end" textLength="89.0" lengthAdjust="spacingAndGlyphs">1.0</text>
<text x="899.5" y="718.0" font-size="60" text-anchor="end" textLength="93.0" lengthAdjust="spacingAndGlyphs">0.0</text>
<text x="899.5" y="1031.0" font-size="60" text-anchor="end" textLength="114.0" lengthAdjust="spacingAndGlyphs">-1.0</text>
<text x="899.5" y="1343.0" font-size="60" text-anchor="end" textLength="114.0" lengthAdjust="spacingAndGlyphs">-2.0</text>
<text x="1237.0" y="124.0" font-size="61.5" text-anchor="middle" textLength="385.0" lengthAdjust="spacingAndGlyphs">Whole Blood</text>
<text x="1237.0" y="192.8" font-size="61.5" text-anchor="middle" textLength="537.0" lengthAdjust="spacingAndGlyphs">Ionized Potassium</text>
<text x="1237.0" y="261.4" font-size="61.5" text-anchor="middle" textLength="276.0" lengthAdjust="spacingAndGlyphs">(mmol/L)</text>
<text x="1567.0" y="461.0" font-size="60" text-anchor="end" textLength="71.0" lengthAdjust="spacingAndGlyphs">12</text>
<text x="1567.0" y="699.0" font-size="60" text-anchor="end" textLength="35.0" lengthAdjust="spacingAndGlyphs">8</text>
<text x="1567.0" y="936.0" font-size="60" text-anchor="end" textLength="42.0" lengthAdjust="spacingAndGlyphs">4</text>
<text x="1567.0" y="1175.0" font-size="60" text-anchor="end" textLength="37.0" lengthAdjust="spacingAndGlyphs">0</text>
<text x="1567.0" y="1411.0" font-size="60" text-anchor="end" textLength="57.0" lengthAdjust="spacingAndGlyphs">-4</text>
<text x="1907.0" y="131.5" font-size="61.5" text-anchor="middle" textLength="383.0" lengthAdjust="spacingAndGlyphs">Whole Blood</text>
<text x="1907.0" y="199.0" font-size="61.5" text-anchor="middle" textLength="478.0" lengthAdjust="spacingAndGlyphs">Ionized Chloride</text>
<text x="1907.0" y="266.5" font-size="61.5" text-anchor="middle" textLength="276.0" lengthAdjust="spacingAndGlyphs">(mmol/L)</text>
<text x="1696.6" y="380.0" font-size="52" text-anchor="start" textLength="179.0" lengthAdjust="spacingAndGlyphs">P&lt;0.05</text>
<text x="1943.0" y="380.0" font-size="52" text-anchor="start" textLength="176.0" lengthAdjust="spacingAndGlyphs">P&lt;0.02</text>
<text x="148.3" y="1787.3" font-size="60" text-anchor="end" textLength="38.0" lengthAdjust="spacingAndGlyphs">9</text>
<text x="148.3" y="1949.8" font-size="60" text-anchor="end" textLength="36.0" lengthAdjust="spacingAndGlyphs">7</text>
<text x="148.3" y="2118.5" font-size="60" text-anchor="end" textLength="36.0" lengthAdjust="spacingAndGlyphs">5</text>
<text x="148.3" y="2281.2" font-size="60" text-anchor="end" textLength="36.0" lengthAdjust="spacingAndGlyphs">3</text>
<text x="148.3" y="2450.0" font-size="60" text-anchor="end" textLength="36.0" lengthAdjust="spacingAndGlyphs">1</text>
<text x="148.3" y="2612.5" font-size="60" text-anchor="end" textLength="60.0" lengthAdjust="spacingAndGlyphs">-1</text>
<text x="148.3" y="2780.5" font-size="60" text-anchor="end" textLength="60.0" lengthAdjust="spacingAndGlyphs">-3</text>
<text x="507.0" y="1557.0" font-size="61.5" text-anchor="middle" textLength="214.0" lengthAdjust="spacingAndGlyphs">Plasma</text>
<text x="507.0" y="1626.5" font-size="61.5" text-anchor="middle" textLength="358.0" lengthAdjust="spacingAndGlyphs">Bicarbonate</text>
<text x="507.0" y="1695.0" font-size="61.5" text-anchor="middle" textLength="276.0" lengthAdjust="spacingAndGlyphs">(mmol/L)</text>
<text x="402.0" y="1793.0" font-size="52" text-anchor="start" textLength="175.0" lengthAdjust="spacingAndGlyphs">P&lt;0.02</text>
<text x="346.0" y="1886.7" font-size="52" text-anchor="start" textLength="179.0" lengthAdjust="spacingAndGlyphs">P&lt;0.05</text>
<text x="904.0" y="1861.8" font-size="60" text-anchor="end" textLength="70.0" lengthAdjust="spacingAndGlyphs">10</text>
<text x="904.0" y="2055.6" font-size="60" text-anchor="end" textLength="36.0" lengthAdjust="spacingAndGlyphs">5</text>
<text x="904.0" y="2249.6" font-size="60" text-anchor="end" textLength="36.0" lengthAdjust="spacingAndGlyphs">0</text>
<text x="904.0" y="2443.0" font-size="60" text-anchor="end" textLength="61.0" lengthAdjust="spacingAndGlyphs">-5</text>
<text x="904.0" y="2637.0" font-size="60" text-anchor="end" textLength="91.0" lengthAdjust="spacingAndGlyphs">-10</text>
<text x="904.0" y="2830.0" font-size="60" text-anchor="end" textLength="93.0" lengthAdjust="spacingAndGlyphs">-15</text>
<text x="1237.0" y="1557.0" font-size="61.5" text-anchor="middle" textLength="177.0" lengthAdjust="spacingAndGlyphs">Blood</text>
<text x="1237.0" y="1626.5" font-size="61.5" text-anchor="middle" textLength="316.0" lengthAdjust="spacingAndGlyphs">Anion Gap</text>
<text x="1237.0" y="1695.0" font-size="61.5" text-anchor="middle" textLength="278.0" lengthAdjust="spacingAndGlyphs">(mmol/L)</text>
<text x="1592.0" y="1980.4" font-size="60" text-anchor="end" textLength="90.0" lengthAdjust="spacingAndGlyphs">4.0</text>
<text x="1592.0" y="2111.8" font-size="60" text-anchor="end" textLength="90.0" lengthAdjust="spacingAndGlyphs">3.0</text>
<text x="1592.0" y="2243.2" font-size="60" text-anchor="end" textLength="90.0" lengthAdjust="spacingAndGlyphs">2.0</text>
<text x="1592.0" y="2380.8" font-size="60" text-anchor="end" textLength="90.0" lengthAdjust="spacingAndGlyphs">1.0</text>
<text x="1592.0" y="2506.0" font-size="60" text-anchor="end" textLength="90.0" lengthAdjust="spacingAndGlyphs">0.0</text>
<text x="1592.0" y="2643.5" font-size="60" text-anchor="end" textLength="114.6" lengthAdjust="spacingAndGlyphs">-1.0</text>
<text x="1592.0" y="2774.8" font-size="60" text-anchor="end" textLength="114.6" lengthAdjust="spacingAndGlyphs">-2.0</text>
<text x="1930.0" y="1557.0" font-size="61.5" text-anchor="middle" textLength="383.0" lengthAdjust="spacingAndGlyphs">Whole Blood</text>
<text x="1930.0" y="1626.5" font-size="61.5" text-anchor="middle" textLength="232.0" lengthAdjust="spacingAndGlyphs">Glucose</text>
<text x="1930.0" y="1695.0" font-size="61.5" text-anchor="middle" textLength="276.0" lengthAdjust="spacingAndGlyphs">(mmol/L)</text>
<text x="1721.5" y="1818.0" font-size="52" text-anchor="start" textLength="180.0" lengthAdjust="spacingAndGlyphs">P&lt;0.02</text>
<text x="1966.0" y="1818.0" font-size="52" text-anchor="start" textLength="180.0" lengthAdjust="spacingAndGlyphs">P&lt;0.02</text>
<text x="303.0" y="3043.6" font-size="61" text-anchor="start" textLength="414.0" lengthAdjust="spacingAndGlyphs">Normal Saline</text>
<text x="902.0" y="3043.6" font-size="61" text-anchor="start" textLength="841.0" lengthAdjust="spacingAndGlyphs">Normal Saline with Dextrose</text>
<text x="1925.0" y="3043.6" font-size="61" text-anchor="start" textLength="190.0" lengthAdjust="spacingAndGlyphs">Ringer</text>
</g>
</svg>
</body></html>
